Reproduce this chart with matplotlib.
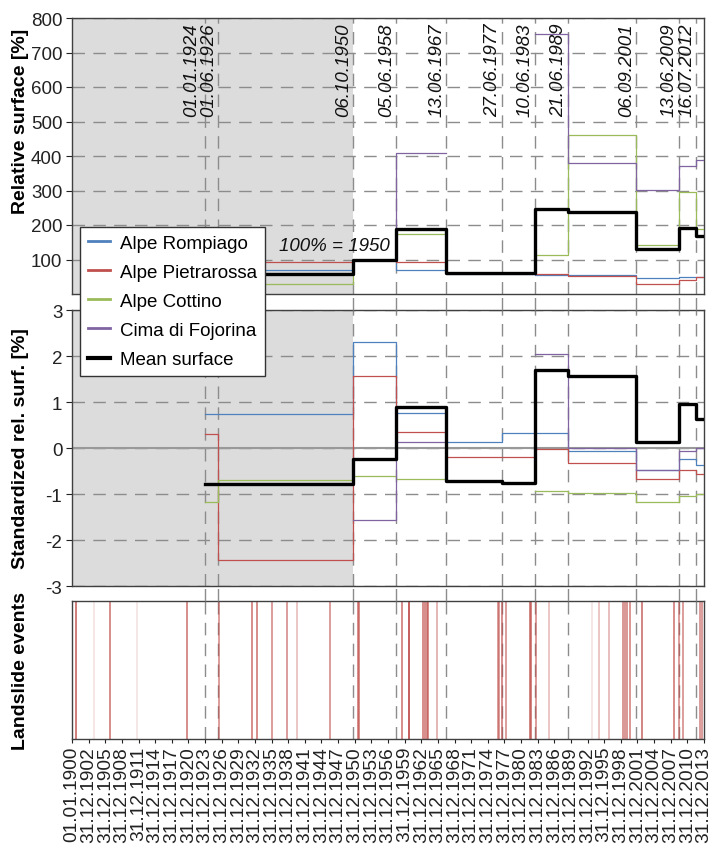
import matplotlib
matplotlib.use("Agg")
import matplotlib.pyplot as plt
import numpy as np
import pandas as pd
from matplotlib.lines import Line2D
from matplotlib.transforms import blended_transform_factory

plt.rcParams['font.family'] = ['Liberation Sans', 'DejaVu Sans']
plt.rcParams['axes.unicode_minus'] = False

# ---------------- data ----------------
map_dates = ["01.01.1924", "01.06.1926", "06.10.1950", "05.06.1958", "13.06.1967",
             "27.06.1977", "10.06.1983", "21.06.1989", "06.09.2001", "13.06.2009",
             "16.07.2012"]
end_date = "31.12.2013"
ref_date = "06.10.1950"

series_names = ["Alpe Rompiago", "Alpe Pietrarossa", "Alpe Cottino",
                "Cima di Fojorina", "Mean surface"]
series_colors = ["#4f81bd", "#c0504d", "#9bbb59", "#8064a2", "black"]

nan = np.nan
# relative surface [%] per interval (starting at each map date)
rel_rompiago = [69, 69, 100, 70, 58, 58, 56, 54, 45, 50, 50]
rel_pietrarossa = [110, 93, 100, 94, 62, 62, 58, 53, 29, 42, 48]
rel_cottino = [15, 28, 100, 175, nan, nan, 114, 461, 143, 297, 187]
rel_fojorina = [nan, nan, 100, 410, nan, nan, 755, 380, 302, 372, 389]
rel_mean = [58, 58, 100, 187, 61, 60, 247, 237, 130, 191, 167]

# standardized relative surface
std_rompiago = [0.73, 0.73, 2.30, 0.77, 0.12, 0.33, 0.33, -0.06, -0.47, -0.24, -0.36]
std_pietrarossa = [0.30, -2.43, 1.56, 0.34, -0.19, -0.19, -0.02, -0.32, -0.67, -0.48, -0.56]
std_cottino = [-1.17, -0.69, -0.60, -0.67, nan, nan, -0.94, -0.97, -1.18, -1.05, -1.01]
std_fojorina = [nan, nan, -1.57, 0.14, nan, nan, 2.04, -0.01, -0.48, -0.07, 0.01]
std_mean = [-0.78, -0.78, -0.24, 0.89, -0.71, -0.76, 1.69, 1.56, 0.14, 0.95, 0.63]

# landslide events (decimal year) and how strong the mark is
landslides = [1900.66, 1903.97, 1906.85, 1911.75, 1920.75, 1926.45, 1932.4, 1933.4,
              1936.0, 1938.7, 1940.6, 1946.5, 1951.6, 1951.85, 1959.6, 1960.7,
              1960.85, 1963.4, 1963.7, 1964.0, 1964.15, 1965.8, 1976.85, 1977.1,
              1977.6, 1978.25, 1982.6, 1982.8, 1983.7, 1986.1, 1993.8, 1995.15,
              1996.9, 1999.3, 1999.7, 2000.15, 2000.7, 2002.9, 2008.6, 2009.5,
              2010.3, 2013.3, 2013.65]
landslide_alpha = [0.8, 0.15, 0.7, 0.15, 0.7, 0.6, 0.7, 0.7,
                   0.6, 0.6, 0.35, 0.6, 0.7, 0.7, 0.7, 0.75,
                   0.75, 0.7, 0.7, 0.7, 0.7, 0.45, 0.6, 0.6,
                   0.7, 0.6, 0.75, 0.75, 0.6, 0.35, 0.15, 0.35,
                   0.4, 0.65, 0.65, 0.65, 0.65, 0.75, 0.7, 0.6,
                   0.6, 0.6, 0.6]

xtick_labels = ["01.01.1900"] + ["31.12.%d" % y for y in range(1902, 2014, 3)]


def to_year(s):
    d = pd.to_datetime(s, format="%d.%m.%Y")
    y0 = pd.Timestamp(year=d.year, month=1, day=1)
    y1 = pd.Timestamp(year=d.year + 1, month=1, day=1)
    return d.year + (d - y0) / (y1 - y0)


date_x = [to_year(s) for s in map_dates]
step_x = date_x + [to_year(end_date)]
ref_x = to_year(ref_date)

# ---------------- figure ----------------
W, H = 712, 845
fig = plt.figure(figsize=(W / 100, H / 100), dpi=100)


def px_axes(top, bottom, left=72, right=704):
    return fig.add_axes([left / W, 1 - bottom / H, (right - left) / W, (bottom - top) / H])


ax1 = px_axes(19, 295)
ax2 = px_axes(311, 587)
ax3 = px_axes(602, 740)

grid_col = "#8c8c8c"
dash = (0, (9, 6))

for ax in (ax1, ax2, ax3):
    ax.set_xlim(1900, 2014)
    for s in ax.spines.values():
        s.set_color("#404040")
        s.set_linewidth(1)
    ax.tick_params(colors="#222222", labelsize=13.5, length=4, pad=3)
    for x in date_x:
        ax.axvline(x, color=grid_col, lw=1, ls=dash, zorder=1.5)

for ax in (ax1, ax2):
    ax.axvspan(1900, ref_x, color="#dcdcdc", lw=0, zorder=0)
    ax.set_xticks([])
    ax.grid(axis="y", color=grid_col, lw=1, ls=dash, zorder=1)
    ax.set_axisbelow(True)

# vertical date lines continue across the gaps between panels
tr = blended_transform_factory(ax3.transData, fig.transFigure)
for x in date_x:
    for g0, g1 in ((295, 311), (587, 602)):
        fig.add_artist(Line2D([x, x], [1 - g1 / H, 1 - g0 / H], transform=tr,
                              color=grid_col, lw=1, ls=dash))

rel_series = [rel_rompiago, rel_pietrarossa, rel_cottino, rel_fojorina, rel_mean]
std_series = [std_rompiago, std_pietrarossa, std_cottino, std_fojorina, std_mean]

for vals, col, name in zip(rel_series, series_colors, series_names):
    thick = name == "Mean surface"
    ax1.step(step_x, list(vals) + [vals[-1]], where="post", color=col,
             lw=2.4 if thick else 0.9, zorder=4 if thick else 3)
for vals, col, name in zip(std_series, series_colors, series_names):
    thick = name == "Mean surface"
    ax2.step(step_x, list(vals) + [vals[-1]], where="post", color=col,
             lw=2.4 if thick else 0.9, zorder=4 if thick else 3)

label_x = -0.068
ax1.set_ylim(0, 800)
ax1.set_yticks(range(100, 900, 100))
ax1.set_ylabel("Relative surface [%]", fontweight="bold", fontsize=14)
ax1.yaxis.set_label_coords(label_x, 0.63)

for i, (lab, x) in enumerate(zip(map_dates, date_x)):
    shift = 0.8 if i == 0 else 0.15
    ax1.text(x - shift, 788, lab, rotation=90, ha="right", va="top",
             style="italic", fontsize=13.5, color="#111111", zorder=5)
ax1.text(1947.3, 140, "100% = 1950", ha="center", va="center", style="italic",
         fontsize=13.5, color="#111111", zorder=5)

ax2.set_ylim(-3, 3)
ax2.set_yticks(range(-3, 4))
ax2.axhline(0, color="#999999", lw=1.5, zorder=2)
ax2.set_ylabel("Standardized rel. surf. [%]", fontweight="bold", fontsize=14)
ax2.yaxis.set_label_coords(label_x, 0.5)

for x, a in zip(landslides, landslide_alpha):
    ax3.axvline(x, color="#c0504d", lw=1.3, alpha=a, zorder=2)
ax3.set_yticks([])
ax3.set_xticks([to_year(s) for s in xtick_labels])
ax3.set_xticklabels(xtick_labels, rotation=90, fontsize=13.8)
ax3.tick_params(axis="x", pad=2, length=3)
ax3.set_ylabel("Landslide events", fontweight="bold", fontsize=14)
ax3.yaxis.set_label_coords(label_x, 0.5)

handles = [Line2D([], [], color=c, lw=3 if c == "black" else 2) for c in series_colors]
leg = fig.legend(handles, series_names, loc="upper left",
                 bbox_to_anchor=(80 / W, 1 - 228 / H), borderaxespad=0,
                 fontsize=13.5, frameon=True, fancybox=False, framealpha=1,
                 edgecolor="#333333", handlelength=1.2, handletextpad=0.55,
                 labelspacing=0.64, borderpad=0.4)
leg.get_frame().set_linewidth(1)
leg.set_zorder(10)

fig.savefig("out.png", dpi=100)
